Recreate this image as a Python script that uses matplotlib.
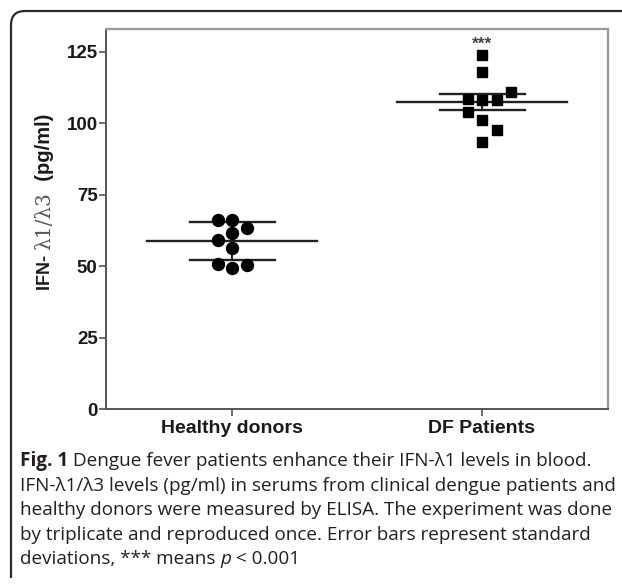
import numpy as np
import matplotlib
matplotlib.use("Agg")
import matplotlib.pyplot as plt
from matplotlib.path import Path
from matplotlib.patches import PathPatch

# ---------------- data ----------------
groups = ["Healthy donors", "DF Patients"]
healthy_values = [66.3, 61.6, 56.3, 49.5, 63.4, 50.5, 66.3, 59.3, 50.8]
df_values = [123.9, 118.0, 108.0, 101.1, 93.5, 108.0, 97.6, 108.6, 104.0, 111.0]
group_means = [58.9, 107.4]
group_errors = [6.7, 2.9]
y_ticks = [0, 25, 50, 75, 100, 125]
signif_label = "***"
signif_y = 127.8

caption_lines = [
    ("Fig. 1", " Dengue fever patients enhance their IFN-\u03bb1 levels in blood."),
    ("", "IFN-\u03bb1/\u03bb3 levels (pg/ml) in serums from clinical dengue patients and"),
    ("", "healthy donors were measured by ELISA. The experiment was done"),
    ("", "by triplicate and reproduced once. Error bars represent standard"),
]
caption_last = ("deviations, *** means ", "p", " < 0.001")

W, H = 622, 585
DPI = 100


def beeswarm(values, step, thr):
    order = [0, 1, -1, 2, -2, 3, -3]
    placed = []
    offs = []
    for v in values:
        for k in order:
            ok = all(not (pk == k and abs(pv - v) < thr) for pk, pv in placed)
            if ok:
                placed.append((k, v))
                offs.append(k * step)
                break
    return np.array(offs)


fig = plt.figure(figsize=(W / DPI, H / DPI), dpi=DPI)
fig.patch.set_facecolor("white")


def fx(px):
    return px / W


def fy(py):
    return 1 - py / H


ax = fig.add_axes([fx(106), fy(409), fx(608) - fx(106), fy(29) - fy(409)])
ax.set_xlim(-0.504, 1.504)
ax.set_ylim(0, 133)

step = 0.058
thr = 4.5
series = [healthy_values, df_values]
markers = ["o", "s"]
msizes = [8.6, 7.6]
for i, vals in enumerate(series):
    offs = beeswarm(vals, step, thr)
    ax.plot(i + offs, vals, linestyle="none", marker=markers[i], ms=msizes[i],
            color="black", mec="black", zorder=3)
    m = group_means[i]
    e = group_errors[i]
    ax.plot([i - 0.34, i + 0.34], [m, m], color="#222222", lw=1.7, zorder=2)
    ax.plot([i - 0.17, i + 0.17], [m + e, m + e], color="#222222", lw=1.7, zorder=2)
    ax.plot([i - 0.17, i + 0.17], [m - e, m - e], color="#222222", lw=1.7, zorder=2)
    ax.plot([i, i], [m - e, m + e], color="#222222", lw=1.5, zorder=2)

ax.text(1, signif_y, signif_label, ha="center", va="center", fontsize=12.5,
        color="#444444", fontfamily="Liberation Sans", fontweight="bold")

for s in ["left", "bottom"]:
    ax.spines[s].set_color("#555555")
    ax.spines[s].set_linewidth(1.4)
for s in ["top", "right"]:
    ax.spines[s].set_color("#999999")
    ax.spines[s].set_linewidth(1.6)

ax.set_yticks(y_ticks)
ax.set_xticks(range(len(groups)))
ax.set_xticklabels(groups)
ax.tick_params(axis="both", direction="out", length=5, width=1.2, color="#555555")
ax.tick_params(axis="y", pad=1)
ax.tick_params(axis="x", pad=3)
for lab in ax.get_yticklabels():
    lab.set_fontfamily("Liberation Sans")
    lab.set_fontweight("bold")
    lab.set_fontsize(13.5)
    lab.set_color("#1a1a1a")
for lab in ax.get_xticklabels():
    lab.set_fontfamily("Liberation Sans")
    lab.set_fontweight("bold")
    lab.set_fontsize(14)
    lab.set_color("#1a1a1a")

# ---------------- y label built from pieces ----------------
fig.canvas.draw()
renderer = fig.canvas.get_renderer()
label_parts = [
    ("IFN- ", dict(fontfamily="Liberation Sans", fontweight="bold", fontsize=13, color="#1a1a1a")),
    ("\u03bb1/\u03bb3", dict(fontfamily="DejaVu Serif", fontweight="normal", fontsize=14.5, color="#555555")),
    ("  (pg/ml)", dict(fontfamily="Liberation Sans", fontweight="bold", fontsize=14.5, color="#1a1a1a")),
]
ypos = H - 290  # display px from bottom
for txt, kw in label_parts:
    t = fig.text(fx(45), ypos / H, txt, rotation=90, ha="center", va="bottom", **kw)
    bb = t.get_window_extent(renderer)
    ypos = bb.y1

# ---------------- caption ----------------
cap_font = "Open Sans"
cap_size = 13.6
cap_color = "#231f20"
baselines = [466, 491, 515, 540, 564]
x0 = 20
for (bold, rest), b in zip(caption_lines, baselines):
    xp = x0
    if bold:
        t = fig.text(fx(xp), fy(b), bold, fontfamily=cap_font, fontweight="bold",
                     fontsize=cap_size, color=cap_color, va="baseline")
        xp = t.get_window_extent(renderer).x1
    fig.text(fx(xp), fy(b), rest, fontfamily=cap_font, fontsize=cap_size,
             color=cap_color, va="baseline")

xp = x0
for txt, style in zip(caption_last, ["normal", "italic", "normal"]):
    t = fig.text(fx(xp), fy(baselines[-1]), txt, fontfamily=cap_font, fontstyle=style,
                 fontsize=cap_size, color=cap_color, va="baseline")
    xp = t.get_window_extent(renderer).x1

# ---------------- rounded frame ----------------
r = 14
verts = [(fx(11), fy(578)), (fx(11), fy(11 + r)), (fx(11), fy(11)), (fx(11 + r), fy(11)), (fx(622), fy(11))]
codes = [Path.MOVETO, Path.LINETO, Path.CURVE3, Path.CURVE3, Path.LINETO]
frame = PathPatch(Path(verts, codes), transform=fig.transFigure, fill=False,
                  edgecolor="#2b2b2b", lw=1.6)
fig.patches.append(frame)

fig.savefig("out.png", dpi=DPI)
